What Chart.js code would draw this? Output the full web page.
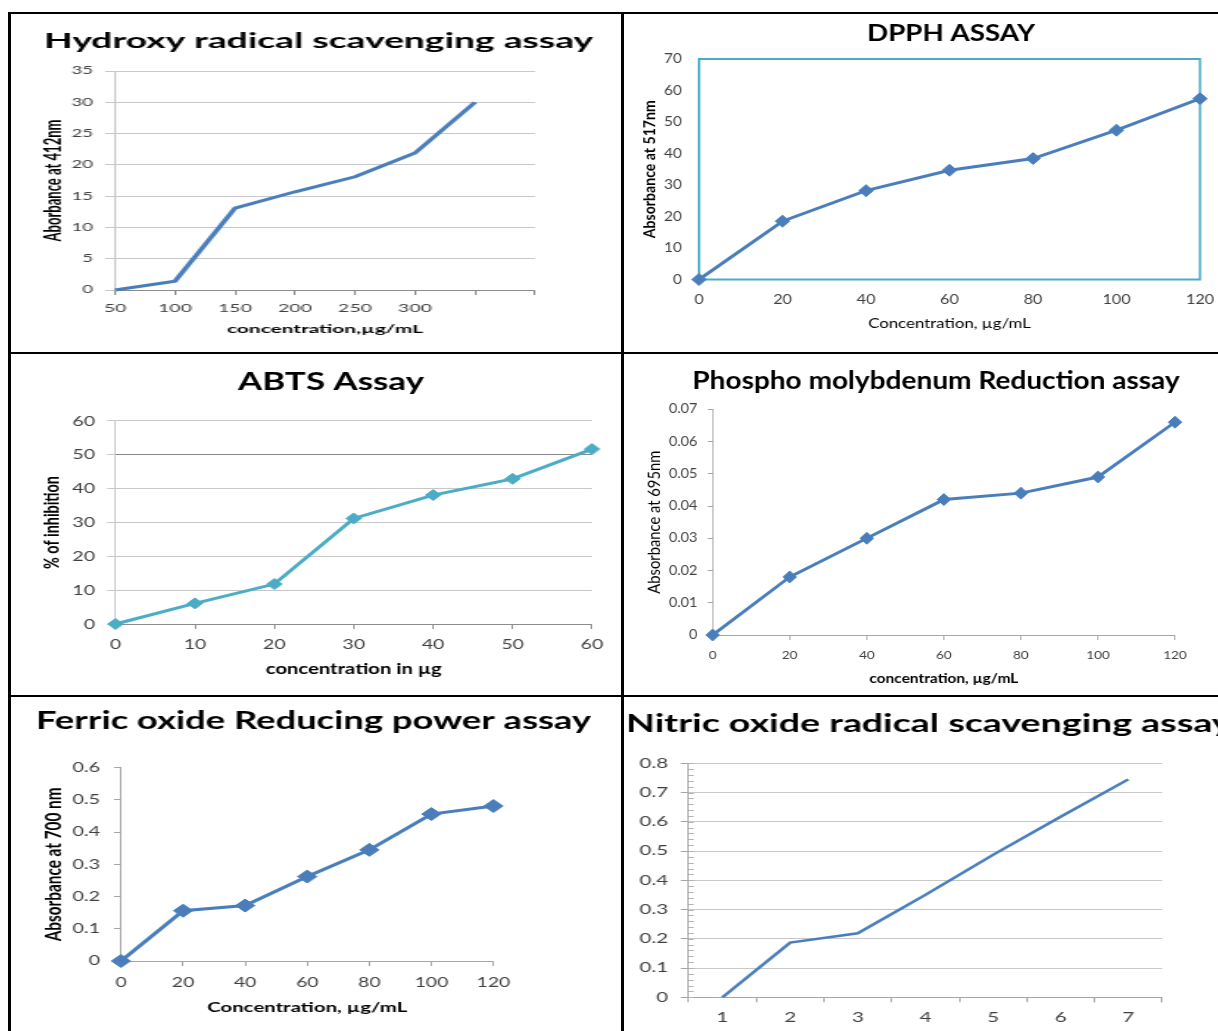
<!DOCTYPE html>
<html><head><meta charset="utf-8"><title>Antioxidant assays</title>
<script src="https://cdn.jsdelivr.net/npm/chart.js@4.4.1/dist/chart.umd.min.js"></script>
<style>
html,body{margin:0;padding:0;background:#fff;overflow:hidden;}
body{position:relative;width:1218px;height:1031px;}
canvas{position:absolute;}
.rule{position:absolute;background:#000;}
</style></head>
<body>
<div class="rule" style="left:8px;top:12px;width:3px;height:1019px"></div>
<div class="rule" style="left:8px;top:12px;width:1210px;height:2px"></div>
<div class="rule" style="left:621px;top:12px;width:3px;height:1019px"></div>
<div class="rule" style="left:8px;top:352px;width:1210px;height:2px"></div>
<div class="rule" style="left:8px;top:695px;width:1210px;height:2px"></div>
<script>
// ---------------- data ----------------
const hydroxyConc = ['50','100','150','200','250','300','',''];
const hydroxyAbs  = [0, 1.4, 13.1, 15.7, 18.1, 21.9, 30];
const dpphConc = ['0','20','40','60','80','100','120'];
const dpphAbs  = [0, 18.5, 28.2, 34.7, 38.4, 47.4, 57.4];
const abtsConc = ['0','10','20','30','40','50','60'];
const abtsInhibition = [0, 6.1, 11.8, 31.2, 38.1, 42.9, 51.7];
const phosphoConc = ['0','20','40','60','80','100','120'];
const phosphoAbs  = [0, 0.018, 0.030, 0.042, 0.044, 0.049, 0.066];
const ferricConc = ['0','20','40','60','80','100','120'];
const ferricAbs  = [0, 0.156, 0.172, 0.262, 0.345, 0.456, 0.481];
const nitricConc = ['1','2','3','4','5','6','7'];
const nitricAbs  = [0, 0.187, 0.219, 0.350, 0.487, 0.617, 0.745];
// y-axis ticks [min, max, step]
const hydroxyYTicks = [0, 35, 5];
const dpphYTicks    = [0, 70, 10];
const abtsYTicks    = [0, 60, 10];
const phosphoYTicks = [0, 0.07, 0.01];
const ferricYTicks  = [0, 0.6, 0.1];
const nitricYTicks  = [0, 0.8, 0.1];

// ---------------- helpers ----------------
const FONT = 'Lato, Carlito, Calibri, "Open Sans", sans-serif';
const CAP = 0.7165;
const TICK = '#404040';
const mctx = document.createElement('canvas').getContext('2d');
function measure(text, weight, size){ mctx.font = weight + ' ' + size + 'px ' + FONT; return mctx.measureText(text).width; }
function fit(text, weight, target){ return 100 * target / measure(text, weight, 100); }
function fmt(v){ return String(+(+v).toFixed(4)); }

const plotBorder = {
  id: 'plotBorder',
  beforeDatasetsDraw(chart, args, o){
    if (!o || !o.color) return;
    const c = chart.ctx, a = chart.chartArea;
    c.save(); c.strokeStyle = o.color; c.lineWidth = o.width;
    c.strokeRect(a.left, a.top, a.right - a.left, a.bottom - a.top); c.restore();
  }
};
const minorTicks = {
  id: 'minorTicks',
  beforeDatasetsDraw(chart, args, o){
    if (!o || !o.step) return;
    const c = chart.ctx, a = chart.chartArea, y = chart.scales.y;
    const n = Math.round((y.max - y.min) / o.step);
    c.save(); c.strokeStyle = o.color; c.lineWidth = 1; c.beginPath();
    for (let i = 0; i <= n; i++){
      const py = Math.round(y.getPixelForValue(y.min + i * o.step)) + 0.5;
      c.moveTo(a.left, py); c.lineTo(a.left + o.length, py);
    }
    c.stroke(); c.restore();
  }
};

function build(p){
  const A = p.area;
  const tSize = p.titleCap / CAP, tLh = tSize * 1.2;
  let sx = p.titleWidth / measure(p.titleFit || p.title, p.titleWeight, tSize);
  let yT = null;
  if (p.yTitle){ const s = fit(p.yTitle.text, p.yTitle.weight, p.yTitle.len); yT = {size: s, lh: s * 1.2}; }
  let Lc, Ws;
  if (p.titleAlign === 'start'){
    Lc = p.titleLeft;
    const full = measure(p.title, p.titleWeight, tSize) * sx;
    Ws = Math.ceil(Math.max(A.r + 20 - Lc, full + 14));
  } else {
    const ytLeft = yT ? p.yTitle.cx - yT.lh * sx / 2 - 3 : A.l - 70;
    Lc = Math.floor(Math.min(ytLeft, 2 * p.titleCX - A.r - 4));
    Ws = Math.round(2 * (p.titleCX - Lc));
  }
  const Wc = Math.round(Ws / sx);
  sx = Ws / Wc;

  const Tc = Math.floor(p.titleCY - tLh / 2);
  const tPadTop = p.titleCY - tLh / 2 - Tc;
  const tPadBottom = A.t - p.titleCY - tLh / 2;
  let xT = null, Hc;
  if (p.xTitle){
    const s = fit(p.xTitle.text, p.xTitle.weight, p.xTitle.width / sx);
    xT = {size: s, lh: s * 1.2};
    Hc = Math.ceil(p.xTitle.cy + xT.lh / 2 + 2 - Tc);
  } else Hc = p.bottom - Tc;
  const xPadBottom = xT ? (Tc + Hc) - p.xTitle.cy - xT.lh / 2 : 0;

  const yTkSize = fit(p.yTk.sample, 'normal', p.yTk.width / sx);
  const xTkSize = p.xTk.sample ? fit(p.xTk.sample, 'normal', p.xTk.width / sx) : yTkSize;
  const yTl = p.yTk.len / sx;
  const yPad = (A.l - p.yTk.right) / sx - yTl;
  const xTl = p.xTk.len;
  const xPad = p.xTk.cy - A.b - xTl - xTkSize * 1.2 / 2;
  const yW = (A.l - Lc) / sx;
  const rW = Wc - (A.r - Lc) / sx;
  const xH = Tc + Hc - A.b;

  const cv = document.createElement('canvas');
  cv.width = Wc; cv.height = Hc;
  cv.style.left = Lc + 'px'; cv.style.top = Tc + 'px';
  cv.style.width = Ws + 'px'; cv.style.height = Hc + 'px';
  document.body.appendChild(cv);

  const gridColor = p.gridColor || '#c8c8c8';
  const yGrid = {
    display: p.grid || yTl > 0,
    drawOnChartArea: !!p.grid,
    drawTicks: yTl > 0,
    tickLength: yTl,
    color: p.darkAt != null ? (c => (c.tick && c.tick.value === p.darkAt) ? '#8a8a8a' : gridColor) : gridColor,
    tickColor: p.yTickColor || gridColor,
    lineWidth: 1
  };
  const plugins = [];
  if (p.box) plugins.push(plotBorder);
  if (p.minor) plugins.push(minorTicks);

  new Chart(cv, {
    type: 'line',
    data: {
      labels: p.labels,
      datasets: [{
        data: p.values, xAxisID: 'x', yAxisID: 'y',
        borderColor: p.color, backgroundColor: p.color,
        borderWidth: p.lineWidth, tension: 0, fill: false, clip: false,
        pointStyle: 'rectRot', pointRadius: p.radius, pointHoverRadius: p.radius,
        pointBackgroundColor: p.color, pointBorderColor: p.color, pointBorderWidth: p.radius ? 1 : 0
      }]
    },
    options: {
      responsive: false, maintainAspectRatio: false, animation: false, events: [],
      layout: {padding: 0},
      plugins: {
        legend: {display: false}, tooltip: {enabled: false},
        title: {display: true, text: p.title, align: p.titleAlign || 'center', color: '#000', fullSize: true,
          font: {family: FONT, size: tSize, weight: p.titleWeight, lineHeight: 1.2},
          padding: {top: tPadTop, bottom: tPadBottom}},
        plotBorder: p.box || false,
        minorTicks: p.minor ? {step: p.minor.step, length: p.minor.len / sx, color: p.minor.color} : false
      },
      scales: {
        x: {
          type: 'category', offset: !!p.xOffset,
          grid: {display: xTl > 0, offset: !!p.xOffset, drawOnChartArea: false, drawTicks: xTl > 0, tickLength: xTl,
                 color: p.xTickColor || '#a0a0a0', tickColor: p.xTickColor || '#a0a0a0'},
          border: {display: !!p.xBorder, color: p.xBorder, width: 1},
          ticks: {autoSkip: false, maxRotation: 0, minRotation: 0, padding: xPad, color: TICK,
                  font: {family: FONT, size: xTkSize, lineHeight: 1.2}},
          title: xT ? {display: true, text: p.xTitle.text, color: '#000',
                  font: {family: FONT, size: xT.size, weight: p.xTitle.weight, lineHeight: 1.2},
                  padding: {top: 0, bottom: xPadBottom}} : {display: false},
          afterFit: s => { s.height = xH; }
        },
        y: {
          type: 'linear', position: 'left', min: p.yTicks[0], max: p.yTicks[1],
          ticks: {stepSize: p.yTicks[2], padding: yPad, color: TICK, callback: fmt,
                  font: {family: FONT, size: yTkSize, lineHeight: 1.2}},
          grid: yGrid,
          border: {display: !!p.yBorder, color: p.yBorder, width: 1},
          title: yT ? {display: true, text: p.yTitle.text, color: '#000',
                  font: {family: FONT, size: yT.size, weight: p.yTitle.weight, lineHeight: 1.2},
                  padding: {top: (p.yTitle.cx - Lc) / sx - yT.lh / 2, bottom: 0}} : {display: false},
          afterFit: s => { s.width = yW; }
        },
        yR: {
          type: 'linear', position: 'right', display: true,
          ticks: {display: false}, grid: {display: false, drawTicks: false}, border: {display: false},
          afterFit: s => { s.width = Math.max(0, rW); }
        }
      }
    },
    plugins: plugins
  });
}

// ---------------- panels ----------------
const BLUE = '#4a7ebb', TEAL = '#4bacc6';
build({
  labels: hydroxyConc, values: hydroxyAbs, yTicks: hydroxyYTicks,
  title: 'Hydroxy radical scavenging assay', titleWeight: 'bold', titleCap: 15, titleWidth: 549, titleCX: 318.5, titleCY: 41,
  area: {l: 115, t: 71, r: 535, b: 290},
  yTitle: {text: 'Aborbance at 412nm', weight: 'bold', len: 122, cx: 53},
  xTitle: {text: 'concentration,µg/mL', weight: 'bold', width: 196, cy: 329},
  yTk: {sample: '35', width: 21.7, right: 93, len: 10},
  xTk: {sample: '100', width: 33.6, cy: 308, len: 5},
  grid: true, yBorder: '#c8c8c8', xBorder: '#8c8c8c', xTickColor: '#8c8c8c',
  color: BLUE, lineWidth: 3, radius: 0
});
build({
  labels: dpphConc, values: dpphAbs, yTicks: dpphYTicks,
  title: 'DPPH ASSAY', titleWeight: 'bold', titleCap: 16.7, titleWidth: 168, titleCX: 951, titleCY: 33.5,
  area: {l: 699, t: 59, r: 1200, b: 279.5},
  yTitle: {text: 'Absorbance at 517nm', weight: 'bold', len: 138, cx: 649.5},
  xTitle: {text: 'Concentration, µg/mL', weight: 'normal', width: 163, cy: 323.5},
  yTk: {sample: '70', width: 17.9, right: 682, len: 0},
  xTk: {sample: '100', width: 28.2, cy: 300, len: 0},
  grid: false, yBorder: null, xBorder: null, box: {color: TEAL, width: 2},
  color: BLUE, lineWidth: 3, radius: 6
});
build({
  labels: abtsConc, values: abtsInhibition, yTicks: abtsYTicks,
  title: 'ABTS Assay', titleWeight: 'bold', titleCap: 18, titleWidth: 186, titleCX: 331, titleCY: 382,
  area: {l: 115.5, t: 421, r: 592, b: 624},
  yTitle: {text: '% of inhibition', weight: 'bold', len: 93, cx: 53},
  xTitle: {text: 'concentration in µg', weight: 'bold', width: 176, cy: 669},
  yTk: {sample: '60', width: 22.6, right: 95, len: 8.5},
  xTk: {sample: '60', width: 22.5, cy: 644, len: 5},
  grid: true, darkAt: 50, yBorder: '#c8c8c8', xBorder: '#8c8c8c', xTickColor: '#8c8c8c',
  color: TEAL, lineWidth: 3, radius: 5.5
});
build({
  labels: phosphoConc, values: phosphoAbs, yTicks: phosphoYTicks,
  title: 'Phospho molybdenum Reduction assay', titleWeight: 'bold', titleCap: 18, titleWidth: 487, titleCX: 936, titleCY: 381,
  area: {l: 712.7, t: 409.3, r: 1175, b: 635},
  yTitle: {text: 'Absorbance at 695nm', weight: 'normal', len: 143, cx: 654.3},
  xTitle: {text: 'concentration, µg/mL', weight: 'bold', width: 149, cy: 679},
  yTk: {sample: '0.07', width: 28.6, right: 697.4, len: 5},
  xTk: {sample: '100', width: 23.6, cy: 655, len: 5},
  grid: false, yBorder: '#a6a6a6', xBorder: '#a6a6a6', yTickColor: '#a6a6a6', xTickColor: '#a6a6a6',
  color: BLUE, lineWidth: 3, radius: 6
});
build({
  labels: ferricConc, values: ferricAbs, yTicks: ferricYTicks,
  title: 'Ferric oxide Reducing power assay', titleWeight: 'bold', titleCap: 18.3, titleWidth: 575, titleCX: 313.5, titleCY: 721,
  area: {l: 121, t: 767.7, r: 493.5, b: 961},
  yTitle: {text: 'Absorbance at 700 nm', weight: 'bold', len: 154, cx: 53.4},
  xTitle: {text: 'Concentration, µg/mL', weight: 'bold', width: 200, cy: 1008},
  yTk: {sample: '0.6', width: 27.7, right: 100, len: 7},
  xTk: {sample: '100', width: 33.6, cy: 982.5, len: 5},
  grid: false, yBorder: '#a6a6a6', xBorder: '#a6a6a6', yTickColor: '#a6a6a6', xTickColor: '#a6a6a6',
  color: BLUE, lineWidth: 3, radius: 6.5
});
build({
  labels: nitricConc, values: nitricAbs, yTicks: nitricYTicks, xOffset: true,
  title: 'Nitric oxide radical scavenging assay', titleWeight: 'bold',
  titleCap: 18, titleWidth: 606, titleAlign: 'start', titleLeft: 626, titleCY: 724,
  area: {l: 688.7, t: 763.3, r: 1162, b: 997.3}, bottom: 1031,
  yTitle: null, xTitle: null,
  yTk: {sample: '0.8', width: 28.6, right: 668, len: 8},
  xTk: {sample: null, cy: 1018, len: 5},
  grid: true, yBorder: '#a6a6a6', xBorder: '#a6a6a6', yTickColor: '#a6a6a6', xTickColor: '#a6a6a6',
  minor: {step: 0.02, len: 5, color: '#b4b4b4'},
  color: BLUE, lineWidth: 2.5, radius: 0
});
</script>
</body></html>
